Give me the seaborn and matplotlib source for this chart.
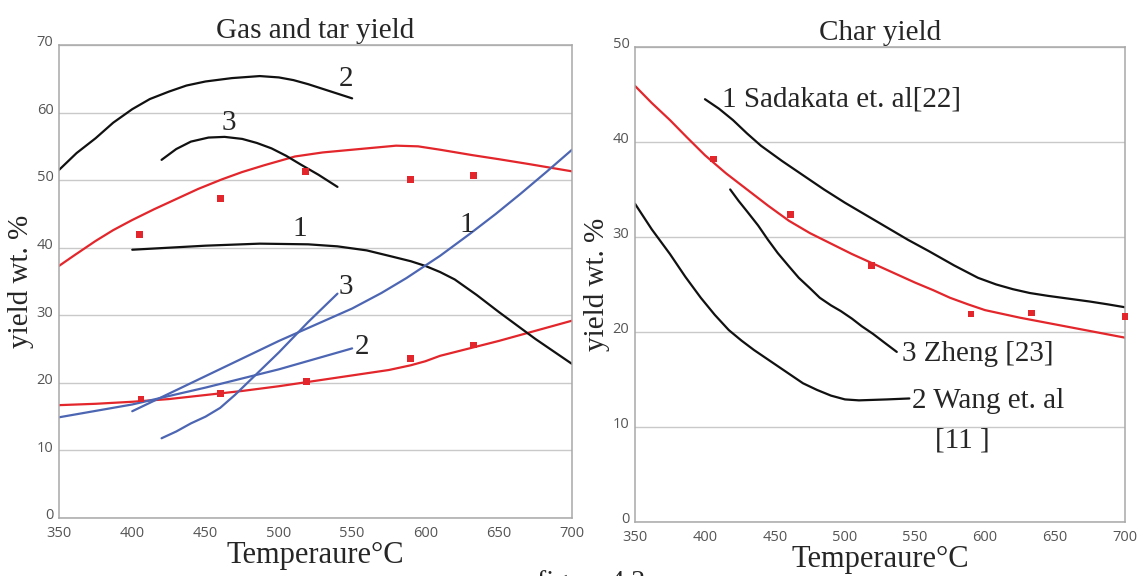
"""Gas/tar and char yield vs temperature, two panels."""
import pandas as pd
import numpy as np
import matplotlib
matplotlib.use("Agg")
import matplotlib.pyplot as plt
import matplotlib.transforms as mtrans
import seaborn as sns

sns.set_theme(style="whitegrid")
plt.rcParams["font.family"] = ["Liberation Serif", "DejaVu Serif"]

RED = "#e3262b"
BLUE = "#4d66b3"
BLACK = "#111111"
GRID = "#c9c9c9"
SPINE = "#a8a8a8"
TICK_C = "#555555"

# ---- left panel: gas and tar yield ----
gas_model_t = [350, 360, 375, 387, 400, 415, 430, 445, 461, 475, 490, 511, 530, 550, 580, 595, 610, 632, 650, 670, 700]
gas_model_y = [37.3, 38.8, 41.0, 42.6, 44.1, 45.7, 47.2, 48.7, 50.1, 51.2, 52.2, 53.5, 54.1, 54.5, 55.1, 55.0, 54.5, 53.7, 53.1, 52.4, 51.3]
gas_exp_t = [405, 460, 518, 590, 633]
gas_exp_y = [42.0, 47.3, 51.3, 50.1, 50.7]

tar_model_t = [350, 375, 400, 425, 450, 475, 500, 525, 550, 575, 590, 600, 610, 630, 650, 675, 700]
tar_model_y = [16.7, 16.9, 17.2, 17.6, 18.2, 18.8, 19.5, 20.3, 21.1, 21.9, 22.6, 23.2, 24.0, 25.1, 26.2, 27.7, 29.2]
tar_exp_t = [406, 460, 519, 590, 633]
tar_exp_y = [17.6, 18.4, 20.2, 23.6, 25.6]

gas_lit = {
    "1": ([400, 425, 450, 487, 520, 540, 560, 577, 590, 600, 610, 620, 635, 650, 675, 700],
          [39.7, 40.0, 40.3, 40.6, 40.5, 40.2, 39.6, 38.7, 38.0, 37.3, 36.4, 35.3, 33.0, 30.5, 26.5, 22.8]),
    "2": ([350, 362, 375, 387, 400, 412, 425, 437, 450, 468, 487, 500, 510, 520, 530, 540, 550],
          [51.5, 54.0, 56.2, 58.5, 60.5, 62.0, 63.1, 64.0, 64.6, 65.1, 65.4, 65.2, 64.8, 64.2, 63.5, 62.8, 62.1]),
    "3": ([420, 430, 440, 452, 463, 475, 485, 495, 505, 515, 527, 540],
          [53.0, 54.6, 55.7, 56.3, 56.4, 56.1, 55.5, 54.7, 53.6, 52.3, 50.8, 49.0]),
}
tar_lit = {
    "1": ([400, 425, 450, 475, 500, 525, 550, 570, 587, 610, 630, 648, 665, 683, 700],
          [15.8, 18.4, 21.0, 23.6, 26.2, 28.6, 31.0, 33.3, 35.5, 38.8, 42.0, 45.0, 48.0, 51.3, 54.5]),
    "2": ([350, 400, 450, 500, 550],
          [14.9, 16.8, 19.3, 22.0, 25.1]),
    "3": ([420, 430, 440, 450, 460, 470, 480, 490, 500, 520, 540],
          [11.8, 12.8, 14.0, 15.0, 16.3, 18.2, 20.3, 22.4, 24.5, 29.0, 33.2]),
}
gas_lbl_pos = {"2": (546, 65.0), "3": (466, 58.4), "1": (514, 42.8)}
tar_lbl_pos = {"1": (628, 43.3), "3": (546, 34.2), "2": (557, 25.3)}

# ---- right panel: char yield ----
char_model_t = [350, 362, 375, 387, 400, 415, 430, 445, 460, 475, 490, 505, 520, 535, 550, 563, 575, 588, 600, 625, 650, 675, 700]
char_model_y = [45.9, 44.1, 42.3, 40.5, 38.6, 36.7, 35.0, 33.3, 31.7, 30.4, 29.3, 28.2, 27.2, 26.2, 25.2, 24.4, 23.6, 22.9, 22.3, 21.5, 20.8, 20.1, 19.4]
char_exp_t = [406, 461, 519, 590, 633, 700]
char_exp_y = [38.2, 32.4, 27.0, 21.9, 22.0, 21.6]

char_lit = {
    "1 Sadakata et. al[22]": (
        [400, 410, 420, 430, 440, 455, 470, 485, 500, 515, 530, 545, 560, 578, 595, 608, 620, 632, 645, 660, 675, 688, 700],
        [44.5, 43.5, 42.3, 40.9, 39.6, 38.0, 36.5, 35.0, 33.6, 32.3, 31.0, 29.7, 28.5, 27.0, 25.7, 25.0, 24.5, 24.1, 23.8, 23.5, 23.2, 22.9, 22.6]),
    "3 Zheng [23]": (
        [418, 424, 430, 438, 445, 452, 460, 467, 475, 482, 490, 497, 505, 512, 520, 528, 537],
        [35.0, 33.8, 32.7, 31.2, 29.7, 28.3, 26.9, 25.7, 24.6, 23.6, 22.8, 22.2, 21.4, 20.6, 19.8, 18.9, 17.9]),
    "2 Wang et. al": (
        [350, 362, 375, 386, 397, 407, 417, 426, 435, 444, 453, 462, 470, 480, 490, 500, 510, 520, 530, 546],
        [33.5, 30.8, 28.2, 25.8, 23.6, 21.8, 20.2, 19.1, 18.1, 17.2, 16.3, 15.4, 14.6, 13.9, 13.3, 12.9, 12.8, 12.85, 12.9, 13.0]),
}
char_lbl_pos = {"1 Sadakata et. al[22]": (412, 44.5),
                "3 Zheng [23]": (541, 17.7),
                "2 Wang et. al": (548, 12.7)}

x_ticks = [350, 400, 450, 500, 550, 600, 650, 700]


def style_axes(ax, ymax):
    ax.set_xlim(350, 700)
    ax.set_ylim(0, ymax)
    ax.set_xticks(x_ticks)
    ax.set_yticks(range(0, ymax + 1, 10))
    ax.grid(axis="y", color=GRID, lw=1.0)
    ax.grid(axis="x", visible=False)
    for s in ax.spines.values():
        s.set_visible(True)
        s.set_color(SPINE)
        s.set_linewidth(1.1)
    ax.tick_params(axis="y", length=3, color=SPINE, pad=1, labelsize=10.5, labelcolor=TICK_C)
    ax.tick_params(axis="x", length=0, pad=6, labelsize=10.5, labelcolor=TICK_C)
    # y labels sit a little above their gridlines in the original
    up = mtrans.ScaledTranslation(0, 3 / 72, ax.figure.dpi_scale_trans)
    for lab in ax.get_yticklabels():
        lab.set_transform(lab.get_transform() + up)
    for lab in ax.get_xticklabels() + ax.get_yticklabels():
        lab.set_family(["Open Sans", "DejaVu Sans"])
    ax.set_xlabel("Temperaure°C", fontsize=22, labelpad=0)
    ax.set_ylabel("yield wt. %", fontsize=21, labelpad=2)


def curve(ax, t, y, color):
    df = pd.DataFrame({"T": t, "y": y})
    sns.lineplot(data=df, x="T", y="y", ax=ax, color=color, lw=1.6, sort=False,
                 solid_joinstyle="round", solid_capstyle="round")


def points(ax, t, y):
    df = pd.DataFrame({"T": t, "y": y})
    sns.scatterplot(data=df, x="T", y="y", ax=ax, color=RED, marker="s",
                    s=24, edgecolor="none", zorder=5, clip_on=False)


fig = plt.figure(figsize=(11.47, 5.76), dpi=100)
ax1 = fig.add_axes([0.0514, 0.1007, 0.4473, 0.8212])
ax2 = fig.add_axes([0.5536, 0.0938, 0.4272, 0.8247])

# left
curve(ax1, gas_model_t, gas_model_y, RED)
curve(ax1, tar_model_t, tar_model_y, RED)
for k, (t, y) in gas_lit.items():
    curve(ax1, t, y, BLACK)
    ax1.text(*gas_lbl_pos[k], k, fontsize=21, ha="center", va="center")
for k, (t, y) in tar_lit.items():
    curve(ax1, t, y, BLUE)
    ax1.text(*tar_lbl_pos[k], k, fontsize=21, ha="center", va="center")
points(ax1, gas_exp_t, gas_exp_y)
points(ax1, tar_exp_t, tar_exp_y)
style_axes(ax1, 70)
ax1.set_title("Gas and tar yield", fontsize=21, pad=5)

# right
curve(ax2, char_model_t, char_model_y, RED)
for k, (t, y) in char_lit.items():
    curve(ax2, t, y, BLACK)
    ax2.text(*char_lbl_pos[k], k, fontsize=21, ha="left", va="center")
ax2.text(584, 8.6, "[11 ]", fontsize=21, ha="center", va="center")
points(ax2, char_exp_t, char_exp_y)
style_axes(ax2, 50)
ax2.set_title("Char yield", fontsize=21, pad=5)

# caption below, cut off by the page edge in the original
fig.text(0.515, 0.010, "figure 4.2", fontsize=20, ha="center", va="top")

fig.savefig("out.png", dpi=100)
